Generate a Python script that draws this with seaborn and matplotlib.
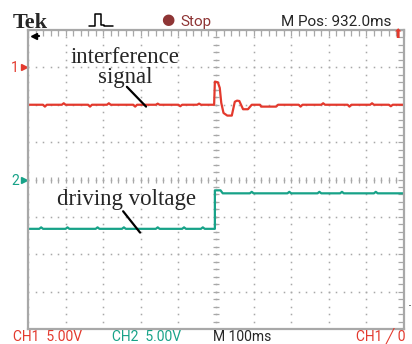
import numpy as np
import pandas as pd
import matplotlib
matplotlib.use("Agg")
import matplotlib.pyplot as plt
from matplotlib.lines import Line2D
import seaborn as sns

# trace data in screen divisions (x: time, 100 ms/div, trigger at 0; y: vertical div)
ch1_x = [-5.0, -4.6, -4.55, -4.5, -4.1, -4.05, -4.0, -3.4, -3.35, -3.3, -2.9, -2.85, -2.8,
         -2.2, -2.15, -2.1, -1.6, -1.55, -1.5, -1.0, -0.95, -0.9, -0.5, -0.45, -0.4, -0.05,
         -0.03, 0.05, 0.1, 0.14, 0.2, 0.3, 0.42, 0.5, 0.56, 0.62, 0.72, 0.85, 0.95, 1.17,
         1.2, 1.6, 1.65, 2.2, 2.25, 2.3, 2.8, 2.85, 2.9, 3.5, 3.55, 3.6, 4.1, 4.15, 4.2,
         4.6, 4.65, 4.7, 5.0]
ch1_y = [2.0, 2.0, 1.95, 2.0, 2.0, 2.04, 2.0, 2.0, 1.95, 2.0, 2.0, 2.04, 2.0,
         2.0, 1.95, 2.0, 2.0, 2.03, 2.0, 2.0, 1.96, 2.0, 2.0, 2.03, 2.0, 2.0,
         2.62, 2.6, 2.45, 2.05, 1.78, 1.71, 1.71, 2.08, 2.11, 2.1, 1.88, 1.88, 2.0, 2.0,
         1.95, 1.95, 2.0, 2.0, 1.95, 2.0, 2.0, 2.04, 2.0, 2.0, 1.95, 2.0, 2.0, 2.04, 2.0,
         2.0, 1.96, 2.0, 2.0]

ch2_x = [-5.0, -4.7, -4.65, -4.6, -4.0, -3.95, -3.9, -3.2, -3.15, -3.1, -2.5, -2.45, -2.4,
         -1.6, -1.55, -1.5, -0.9, -0.85, -0.8, -0.4, -0.35, -0.3, -0.03, -0.03, 0.12,
         0.18, 0.9, 0.95, 1.0, 1.9, 1.95, 2.0, 2.7, 2.75, 2.8, 3.3, 3.35, 3.4, 4.2,
         4.25, 4.3, 5.0]
ch2_y = [-1.32, -1.32, -1.28, -1.32, -1.32, -1.28, -1.32, -1.32, -1.28, -1.32, -1.32,
         -1.28, -1.32, -1.32, -1.28, -1.32, -1.32, -1.28, -1.32, -1.32, -1.28, -1.32,
         -1.32, -0.29, -0.29, -0.37, -0.37, -0.33, -0.37, -0.37, -0.33, -0.37, -0.37,
         -0.33, -0.37, -0.37, -0.33, -0.37, -0.37, -0.33, -0.37, -0.37]

red = "#e3392d"
teal = "#17a288"
grey = "#a8a8a8"

df1 = pd.DataFrame({"t": ch1_x, "v": ch1_y})
df2 = pd.DataFrame({"t": ch2_x, "v": ch2_y})

sns.set_style("white")
fig = plt.figure(figsize=(4.12, 3.44), dpi=100)
W, H = 412, 344
ax = fig.add_axes([28 / W, 1 - 329 / H, 376 / W, 299 / H])
ax.set_xlim(-5, 5)
ax.set_ylim(-4, 4)

# graticule: dotted division lines, centre cross with fine ticks
fine = np.arange(-5, 5.001, 0.2)
fine_y = np.arange(-4, 4.001, 0.2)
for k in range(-4, 5):
    ax.plot(fine, np.full_like(fine, k), ls="none", marker="s", ms=1.1, color=grey, mew=0)
for k in range(-5, 6):
    ax.plot(np.full_like(fine_y, k), fine_y, ls="none", marker="s", ms=1.1, color=grey, mew=0)
ax.plot(fine, np.zeros_like(fine), ls="none", marker="|", ms=5, mew=0.9, color=grey)
ax.plot(np.zeros_like(fine_y), fine_y, ls="none", marker="_", ms=5, mew=0.9, color=grey)

ax.set_xticks(np.arange(-5, 5.001, 0.2))
ax.set_yticks(np.arange(-4, 4.001, 0.2))
ax.tick_params(direction="in", length=4, width=0.9, color=grey,
               top=True, right=True, labelleft=False, labelbottom=False)
for s in ax.spines.values():
    s.set_color(grey)
    s.set_linewidth(1.6)

sns.lineplot(data=df1, x="t", y="v", ax=ax, color=red, lw=1.6, estimator=None, sort=False)
sns.lineplot(data=df2, x="t", y="v", ax=ax, color=teal, lw=1.6, estimator=None, sort=False)
ax.set_xlabel("")
ax.set_ylabel("")

# annotations
serif = "Liberation Serif"
ax.text(-2.42, 3.12, "interference", ha="center", va="baseline", fontsize=16.5, family=serif)
ax.text(-2.42, 2.59, "signal", ha="center", va="baseline", fontsize=16.5, family=serif)
ax.plot([-2.37, -1.86], [2.48, 1.95], color="black", lw=1.6)
ax.text(-2.38, -0.67, "driving voltage", ha="center", va="baseline", fontsize=16.5, family=serif)
ax.plot([-2.47, -2.02], [-0.85, -1.42], color="black", lw=1.6)

# channel markers on the left edge
fig.text(11 / W, 1 - 68 / H, "1", color=red, fontsize=10, ha="left", va="center", family="Roboto")
fig.text(11 / W, 1 - 181 / H, "2", color=teal, fontsize=10, ha="left", va="center", family="Roboto")
ax.plot([-5.11], [3.0], marker=">", color=red, ms=4.5, clip_on=False)
ax.plot([-5.11], [0.0], marker=">", color=teal, ms=4.5, clip_on=False)

# header
fig.text(13 / W, 1 - 28 / H, "Tek", fontsize=16, weight="bold", family=serif, va="baseline")
pulse_x = np.array([89, 95, 95, 101, 101, 104, 104, 113])
pulse_y = np.array([26, 26, 14, 14, 25, 25, 26, 26])
fig.add_artist(Line2D(pulse_x / W, 1 - pulse_y / H, color="black", lw=1.1))
fig.text(168 / W, 1 - 20 / H, "●", fontsize=11, color="#8e3535", ha="center", va="center",
         family="DejaVu Sans")
fig.text(180 / W, 1 - 26 / H, "Stop", fontsize=11, color="#8e3535", va="baseline", family="Roboto")
fig.text(281 / W, 1 - 26 / H, "M Pos: 932.0ms", fontsize=11, va="baseline", family="Roboto")
ax.plot([-4.85], [3.84], marker="<", color="black", ms=5, clip_on=False)
ax.plot([-4.85, -4.7], [3.84, 3.84], color="black", lw=1.6)
fig.text(398 / W, 1 - 35 / H, "⬆", fontsize=9, color=red, ha="center", va="center",
         family="DejaVu Sans")

# footer
fig.text(13 / W, 1 - 341 / H, "CH1  5.00V", fontsize=10, color=red, va="baseline", family="Roboto")
fig.text(112 / W, 1 - 341 / H, "CH2  5.00V", fontsize=10, color=teal, va="baseline", family="Roboto")
fig.text(213 / W, 1 - 341 / H, "M 100ms", fontsize=10, va="baseline", family="Roboto")
fig.text(356 / W, 1 - 341 / H, "CH1 ╱ 0", fontsize=10, color=red, va="baseline",
         family=["Roboto", "DejaVu Sans"])
fig.text(410 / W, 1 - 307 / H, "·", fontsize=9, ha="center", va="center")

fig.savefig("out.png", dpi=100, facecolor="white")
